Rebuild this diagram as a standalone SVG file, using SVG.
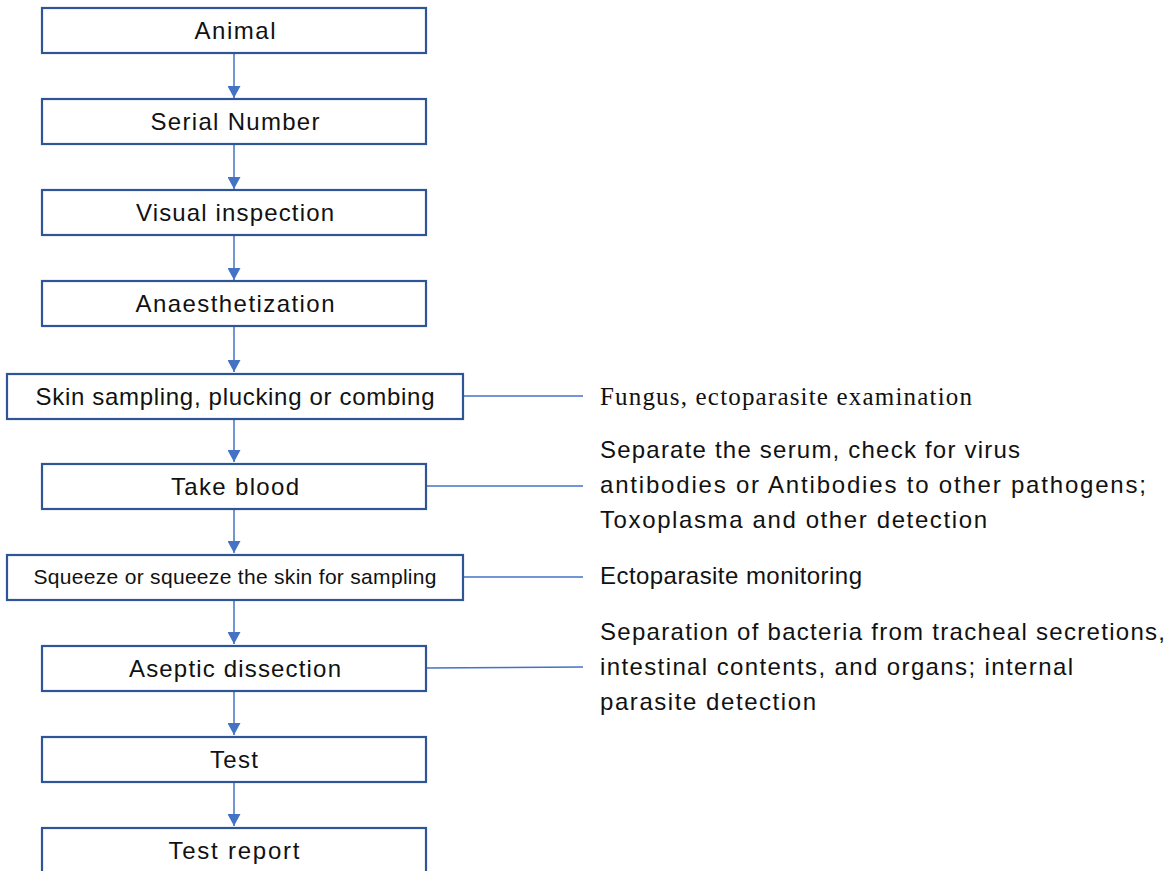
<svg xmlns="http://www.w3.org/2000/svg" width="1172" height="871" viewBox="0 0 1172 871">
<style>
.box{fill:#fff;stroke:#2F5597;stroke-width:2.2}
.t{font-family:"Liberation Sans",Arial,sans-serif;font-size:24px;fill:#111;text-anchor:middle}
.r{font-family:"Liberation Sans",Arial,sans-serif;font-size:24px;fill:#111}
.tm{font-family:"Liberation Serif","Times New Roman",serif;font-size:25px;fill:#111}
.c{stroke:#4472C4;stroke-width:1.5;fill:none}
</style>
<defs>
<marker id="ah" markerWidth="12" markerHeight="13" refX="12" refY="6.5" orient="auto" markerUnits="userSpaceOnUse" viewBox="0 0 12 13">
<path d="M0,0 L12,6.5 L0,13 z" fill="#4472C4"/>
</marker>
</defs>
<rect width="1172" height="871" fill="#fff"/>
<g id="connectors">
<line class="c" x1="234" y1="53" x2="234" y2="98" marker-end="url(#ah)"/>
<line class="c" x1="234" y1="144" x2="234" y2="189" marker-end="url(#ah)"/>
<line class="c" x1="234" y1="235" x2="234" y2="280" marker-end="url(#ah)"/>
<line class="c" x1="234" y1="326" x2="234" y2="372" marker-end="url(#ah)"/>
<line class="c" x1="234" y1="419" x2="234" y2="462" marker-end="url(#ah)"/>
<line class="c" x1="234" y1="509" x2="234" y2="553" marker-end="url(#ah)"/>
<line class="c" x1="234" y1="600" x2="234" y2="644" marker-end="url(#ah)"/>
<line class="c" x1="234" y1="691" x2="234" y2="735" marker-end="url(#ah)"/>
<line class="c" x1="234" y1="782" x2="234" y2="826" marker-end="url(#ah)"/>
<line class="c" x1="463" y1="396" x2="583" y2="396"/>
<line class="c" x1="426" y1="486" x2="583" y2="486"/>
<line class="c" x1="463" y1="577" x2="583" y2="577"/>
<line class="c" x1="426" y1="668" x2="583" y2="667"/>
</g>
<g id="n1"><rect class="box" x="42" y="8" width="384" height="45"/><text class="t" x="235" y="39" textLength="81">Animal</text></g>
<g id="n2"><rect class="box" x="42" y="99" width="384" height="45"/><text class="t" x="235" y="130" textLength="169">Serial Number</text></g>
<g id="n3"><rect class="box" x="42" y="190" width="384" height="45"/><text class="t" x="235" y="221" textLength="198">Visual inspection</text></g>
<g id="n4"><rect class="box" x="42" y="281" width="384" height="45"/><text class="t" x="235" y="312" textLength="199">Anaesthetization</text></g>
<g id="n5"><rect class="box" x="7" y="374" width="456" height="45"/><text class="t" x="235" y="405" textLength="399">Skin sampling, plucking or combing</text></g>
<g id="n6"><rect class="box" x="42" y="464" width="384" height="45"/><text class="t" x="235" y="495" textLength="128">Take blood</text></g>
<g id="n7"><rect class="box" x="7" y="555" width="456" height="45"/><text class="t" x="235" y="584" style="font-size:21px" textLength="403">Squeeze or squeeze the skin for sampling</text></g>
<g id="n8"><rect class="box" x="42" y="646" width="384" height="45"/><text class="t" x="235" y="677" textLength="212">Aseptic dissection</text></g>
<g id="n9"><rect class="box" x="42" y="737" width="384" height="45"/><text class="t" x="234" y="768" textLength="48">Test</text></g>
<g id="n10"><rect class="box" x="42" y="828" width="384" height="45"/><text class="t" x="234" y="859" textLength="131">Test report</text></g>
<g id="notes">
<text class="tm" x="600" y="405" textLength="372">Fungus, ectoparasite examination</text>
<text class="r" x="600" y="458" textLength="420">Separate the serum, check for virus</text>
<text class="r" x="600" y="493" textLength="546">antibodies or Antibodies to other pathogens;</text>
<text class="r" x="600" y="528" textLength="387">Toxoplasma and other detection</text>
<text class="r" x="600" y="584" textLength="262">Ectoparasite monitoring</text>
<text class="r" x="600" y="640" textLength="565">Separation of bacteria from tracheal secretions,</text>
<text class="r" x="600" y="675" textLength="473">intestinal contents, and organs; internal</text>
<text class="r" x="600" y="710" textLength="216">parasite detection</text>
</g>
</svg>
